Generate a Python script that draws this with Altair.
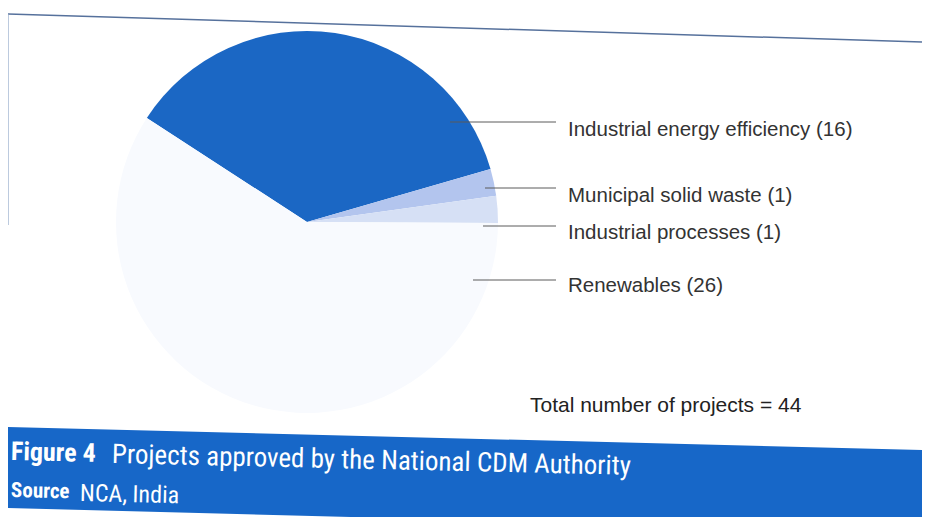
import altair as alt
import pandas as pd
import math

# ---- data ----
categories = ["Industrial energy efficiency", "Municipal solid waste",
              "Industrial processes", "Renewables"]
counts = [16, 1, 1, 26]
total_label = "Total number of projects = 44"
title_bold = "Figure 4"
title_text = "Projects approved by the National CDM Authority"
source_bold = "Source"
source_text = "NCA, India"

# ---- styles / layout (screen px, converted to chart px) ----
slice_colors = ["#1b67c4", "#b3c5ee", "#d6e0f5", "#f8fafe"]
OFF = 8
W, H = 914, 509
cx, cy, R = 307 - OFF, 222 - OFF, 191
start_deg = 303.0
leader_x1 = [450, 485, 483, 473]
leader_x2 = [556, 556, 556, 556]
leader_y = [122, 188, 226, 280]
label_x = 568
label_y = [130, 196, 233, 286]
BANNER = "#1767c8"
FONT = "Liberation Sans"
NARROW = "Liberation Sans Narrow, Roboto Condensed, Liberation Sans, sans-serif"

pie_df = pd.DataFrame({
    "category": categories,
    "count": counts,
    "order": list(range(len(categories))),
})

a0 = math.radians(start_deg)
pie = alt.Chart(pie_df).mark_arc(outerRadius=R, stroke=None).encode(
    theta=alt.Theta("count:Q", stack=True,
                    scale=alt.Scale(range=[a0, a0 + 2 * math.pi])),
    order=alt.Order("order:Q"),
    color=alt.Color("category:N", scale=alt.Scale(domain=categories, range=slice_colors),
                    legend=None),
    x=alt.value(cx), y=alt.value(cy),
)

lab_df = pd.DataFrame({
    "label": [f"{c} ({n})" for c, n in zip(categories, counts)],
    "x1": [v - OFF for v in leader_x1],
    "x2": [v - OFF for v in leader_x2],
    "ly": [v - OFF for v in leader_y],
    "tx": [label_x - OFF] * 4,
    "ty": [v - OFF for v in label_y],
})
leaders = alt.Chart(lab_df).mark_rule(color="#5a5a5a", strokeWidth=1).encode(
    x=alt.X("x1:Q", scale=None), x2="x2:Q",
    y=alt.Y("ly:Q", scale=None),
)
labels = alt.Chart(lab_df).mark_text(
    align="left", baseline="middle", font=FONT, fontSize=20.5, color="#333333"
).encode(
    x=alt.X("tx:Q", scale=None), y=alt.Y("ty:Q", scale=None), text="label:N"
)

total = alt.Chart(pd.DataFrame({"t": [total_label]})).mark_text(
    align="left", baseline="middle", font=FONT, fontSize=21, color="#222222"
).encode(x=alt.value(530 - OFF), y=alt.value(406 - OFF), text="t:N")

# frame lines
frame_top = alt.Chart(pd.DataFrame({"a": [0]})).mark_rule(
    color="#56719c", strokeWidth=1.5
).encode(x=alt.value(0), x2=alt.value(W), y=alt.value(14 - OFF), y2=alt.value(42 - OFF))
frame_left = alt.Chart(pd.DataFrame({"a": [0]})).mark_rule(
    color="#8fa6c8", strokeWidth=1.2
).encode(x=alt.value(0), y=alt.value(14 - OFF), y2=alt.value(225 - OFF))

# banner (slightly tilted, as in the scan)
ban_df = pd.DataFrame({"x": [0, W], "top": [427 - OFF, 450 - OFF],
                       "bot": [508 - OFF, 532 - OFF]})
banner = alt.Chart(ban_df).mark_area(color=BANNER, opacity=1).encode(
    x=alt.X("x:Q", scale=None), y=alt.Y("top:Q", scale=None), y2="bot:Q"
)

def btext(txt, x, y, size, bold):
    return alt.Chart(pd.DataFrame({"t": [txt]})).mark_text(
        align="left", baseline="middle", font=NARROW, fontSize=size,
        fontWeight="bold" if bold else "normal", color="white", angle=1.3
    ).encode(x=alt.value(x - OFF), y=alt.value(y - OFF), text="t:N")

t1 = btext(title_bold, 11, 452, 26, True)
t2 = btext(title_text, 112, 455, 27, False)
s1 = btext(source_bold, 11, 491, 21, True)
s2 = btext(source_text, 80, 494, 24, False)

chart = alt.layer(frame_top, frame_left, pie, leaders, labels, total,
                  banner, t1, t2, s1, s2).properties(
    width=W, height=H, padding=0, background="white",
    autosize=alt.AutoSizeParams(type="none")
).configure_view(stroke=None)

chart.save("out.html", embed_options={"renderer": "svg", "actions": False})
